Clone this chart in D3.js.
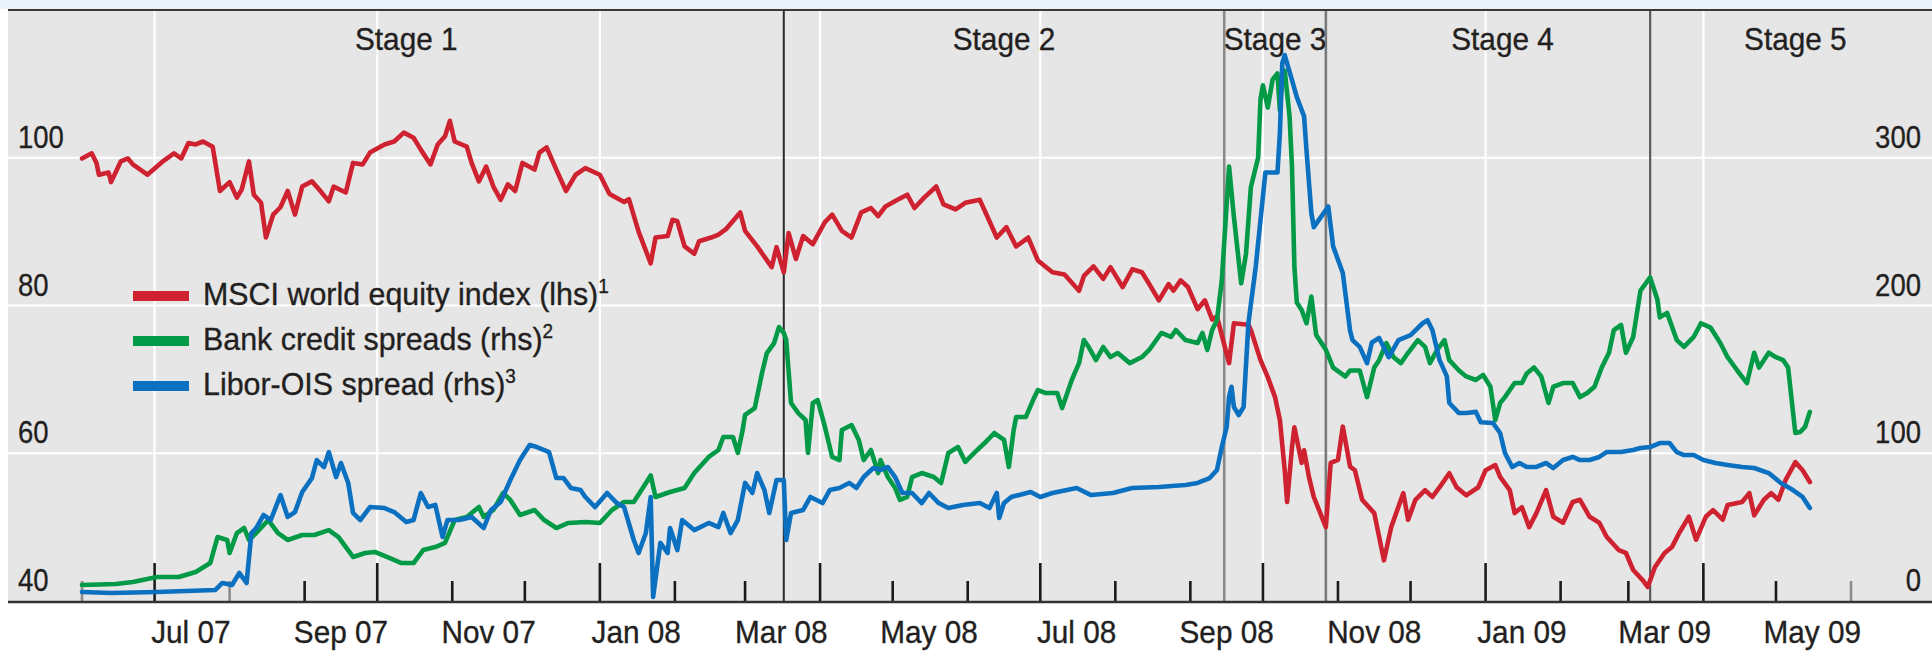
<!DOCTYPE html>
<html><head><meta charset="utf-8">
<script src="https://cdn.jsdelivr.net/npm/d3@7"></script>
<style>
html,body{margin:0;padding:0;background:#fff;}
svg{display:block;}
text{font-family:"Liberation Sans",Arial,Helvetica,sans-serif;fill:#231f20;stroke:#231f20;stroke-width:0.35px;}
</style></head><body>
<svg id="chart" width="1932" height="652"></svg>
<script>
// ---------------- DATA ----------------
const msci = [
["2007-06-01",99.9],["2007-06-05",100.6],["2007-06-07",99.3],["2007-06-08",97.7],["2007-06-12",98.0],["2007-06-13",96.7],
["2007-06-17",99.5],["2007-06-20",99.9],["2007-06-22",99.1],["2007-06-28",97.7],["2007-07-04",99.4],["2007-07-09",100.6],
["2007-07-12",99.9],["2007-07-15",102.0],["2007-07-18",101.8],["2007-07-21",102.2],["2007-07-25",101.5],["2007-07-28",95.5],
["2007-08-01",96.7],["2007-08-04",94.6],["2007-08-06",95.7],["2007-08-09",99.5],["2007-08-11",95.0],["2007-08-14",93.9],
["2007-08-16",89.2],["2007-08-19",92.3],["2007-08-22",93.3],["2007-08-25",95.5],["2007-08-28",92.3],["2007-08-31",96.1],
["2007-09-04",96.8],["2007-09-07",95.7],["2007-09-11",94.1],["2007-09-13",96.1],["2007-09-18",95.3],["2007-09-21",99.3],
["2007-09-25",99.1],["2007-09-28",100.7],["2007-10-04",101.8],["2007-10-08",102.2],["2007-10-12",103.4],["2007-10-16",102.7],
["2007-10-19",101.1],["2007-10-23",99.1],["2007-10-26",101.8],["2007-10-29",102.9],["2007-10-31",105.0],["2007-11-02",102.2],
["2007-11-07",101.5],["2007-11-09",99.3],["2007-11-12",96.8],["2007-11-15",98.8],["2007-11-18",96.1],["2007-11-21",94.3],
["2007-11-24",96.4],["2007-11-27",95.5],["2007-11-30",99.3],["2007-12-05",98.4],["2007-12-07",100.7],["2007-12-10",101.4],
["2007-12-14",98.4],["2007-12-18",95.5],["2007-12-22",97.7],["2007-12-26",98.6],["2008-01-01",97.7],["2008-01-05",95.1],
["2008-01-11",94.0],["2008-01-13",94.4],["2008-01-17",90.0],["2008-01-22",85.7],["2008-01-24",89.2],["2008-01-29",89.4],
["2008-01-31",91.6],["2008-02-02",91.4],["2008-02-05",88.0],["2008-02-09",87.0],["2008-02-11",88.7],["2008-02-16",89.2],
["2008-02-19",89.6],["2008-02-22",90.3],["2008-02-28",92.6],["2008-03-01",90.1],["2008-03-06",88.0],["2008-03-12",85.2],
["2008-03-14",87.9],["2008-03-17",84.5],["2008-03-19",89.8],["2008-03-22",86.3],["2008-03-25",89.4],["2008-03-29",88.3],
["2008-04-03",91.3],["2008-04-06",92.3],["2008-04-10",90.1],["2008-04-14",89.2],["2008-04-18",92.6],["2008-04-22",93.2],
["2008-04-25",92.1],["2008-04-28",93.4],["2008-05-03",94.3],["2008-05-07",95.0],["2008-05-10",93.2],["2008-05-14",94.6],
["2008-05-19",96.1],["2008-05-22",93.7],["2008-05-27",93.0],["2008-05-31",93.9],["2008-06-06",94.3],["2008-06-10",91.4],
["2008-06-13",89.2],["2008-06-17",90.6],["2008-06-21",88.0],["2008-06-26",89.2],["2008-06-30",86.1],["2008-07-06",84.5],
["2008-07-11",84.2],["2008-07-17",82.0],["2008-07-19",84.0],["2008-07-23",85.3],["2008-07-27",83.6],["2008-07-30",85.2],
["2008-08-04",82.5],["2008-08-08",84.9],["2008-08-12",84.5],["2008-08-15",82.9],["2008-08-19",80.7],["2008-08-23",82.9],
["2008-08-25",82.0],["2008-08-28",83.4],["2008-08-31",82.5],["2008-09-04",79.5],["2008-09-07",80.7],["2008-09-10",78.1],
["2008-09-12",78.5],["2008-09-17",72.2],["2008-09-19",77.6],["2008-09-25",77.4],["2008-09-26",76.7],["2008-09-30",72.6],
["2008-10-03",70.3],["2008-10-06",67.6],["2008-10-08",64.5],["2008-10-10",57.7],["2008-10-11",53.4],["2008-10-13",60.8],
["2008-10-14",63.5],["2008-10-17",58.7],["2008-10-18",60.4],["2008-10-20",56.8],["2008-10-22",54.1],["2008-10-27",50.0],
["2008-10-29",58.7],["2008-11-01",59.1],["2008-11-03",63.6],["2008-11-06",58.2],["2008-11-08",57.7],["2008-11-11",53.7],
["2008-11-16",51.9],["2008-11-20",45.5],["2008-11-23",50.0],["2008-11-28",54.6],["2008-11-30",51.0],["2008-12-03",53.7],
["2008-12-07",55.0],["2008-12-10",54.1],["2008-12-13",55.4],["2008-12-17",57.3],["2008-12-20",55.4],["2008-12-24",54.3],
["2008-12-29",55.4],["2009-01-01",57.7],["2009-01-05",58.4],["2009-01-07",56.8],["2009-01-11",55.0],["2009-01-13",51.9],
["2009-01-16",52.7],["2009-01-19",50.0],["2009-01-22",51.9],["2009-01-26",55.0],["2009-01-29",51.4],["2009-02-02",50.6],
["2009-02-06",53.4],["2009-02-09",53.7],["2009-02-13",51.4],["2009-02-17",50.6],["2009-02-20",48.7],["2009-02-25",46.9],
["2009-02-28",46.5],["2009-03-03",44.2],["2009-03-07",42.8],["2009-03-09",41.9],["2009-03-12",44.6],["2009-03-16",46.5],
["2009-03-19",47.3],["2009-03-22",49.2],["2009-03-26",51.4],["2009-03-29",48.3],["2009-04-02",51.4],["2009-04-05",52.3],
["2009-04-09",51.0],["2009-04-11",53.0],["2009-04-17",53.4],["2009-04-20",54.6],["2009-04-22",51.6],["2009-04-26",53.7],
["2009-04-29",54.6],["2009-05-02",53.7],["2009-05-05",56.4],["2009-05-09",58.8],["2009-05-12",57.7],["2009-05-15",56.1]
];

const bankSpreads = [
["2007-06-01",10.8],["2007-06-15",11.5],["2007-06-22",12.9],["2007-07-02",16.2],["2007-07-11",16.2],["2007-07-18",19.6],
["2007-07-24",25.7],["2007-07-27",43.3],["2007-07-31",41.3],["2007-08-01",32.5],["2007-08-04",46],["2007-08-07",49.4],
["2007-08-09",41.3],["2007-08-12",46],["2007-08-17",54.8],["2007-08-21",46],["2007-08-25",41.3],["2007-08-31",44.7],
["2007-09-05",44.7],["2007-09-11",48],["2007-09-15",43.3],["2007-09-21",29.8],["2007-09-26",32.5],["2007-09-30",33.2],
["2007-10-05",29.8],["2007-10-11",25.7],["2007-10-16",25.7],["2007-10-20",34.5],["2007-10-25",36.5],["2007-10-29",39.3],
["2007-11-02",54.8],["2007-11-07",56.9],["2007-11-12",63.6],["2007-11-14",56.9],["2007-11-18",61.6],["2007-11-22",73.1],
["2007-11-25",68.4],["2007-11-29",58.2],["2007-12-05",61.6],["2007-12-09",54.8],["2007-12-14",49.4],["2007-12-19",52.8],
["2007-12-26",53.5],["2008-01-01",52.8],["2008-01-06",61.6],["2008-01-11",67],["2008-01-15",67],["2008-01-19",77.2],
["2008-01-22",85],["2008-01-24",70.4],["2008-01-30",73.8],["2008-02-05",76.5],["2008-02-09",86.6],["2008-02-15",97.5],
["2008-02-19",102.2],["2008-02-21",111],["2008-02-25",111],["2008-02-27",100.2],["2008-02-29",115.7],["2008-03-01",125.9],
["2008-03-05",130.6],["2008-03-08",154.3],["2008-03-10",167.8],["2008-03-13",174.6],["2008-03-15",185.4],["2008-03-17",181.4],
["2008-03-18",176.6],["2008-03-20",134],["2008-03-23",127.2],["2008-03-26",122.5],["2008-03-27",100.2],["2008-03-29",134],
["2008-03-31",136],["2008-04-03",117.8],["2008-04-06",97.5],["2008-04-09",95.4],["2008-04-10",115.7],["2008-04-14",119.1],
["2008-04-17",109],["2008-04-19",95.4],["2008-04-22",102.2],["2008-04-25",86.6],["2008-04-26",95.4],["2008-04-29",83.9],
["2008-05-02",76.5],["2008-05-04",68.4],["2008-05-07",70.4],["2008-05-09",83.9],["2008-05-13",86.6],["2008-05-18",83.9],
["2008-05-21",79.9],["2008-05-24",100.2],["2008-05-28",104.2],["2008-05-31",94.1],["2008-06-04",100.8],["2008-06-08",106.9],
["2008-06-12",113.7],["2008-06-16",109],["2008-06-18",90.7],["2008-06-20",115.7],["2008-06-21",124.5],["2008-06-25",124.5],
["2008-06-28",136],["2008-06-30",142.8],["2008-07-03",140.8],["2008-07-08",140.8],["2008-07-10",130.6],["2008-07-14",149.6],
["2008-07-17",161],["2008-07-19",176.6],["2008-07-21",171.9],["2008-07-24",163.1],["2008-07-27",171.9],["2008-07-30",165.1],
["2008-08-02",167.8],["2008-08-07",161],["2008-08-12",165.1],["2008-08-15",169.9],["2008-08-20",181.4],["2008-08-24",178.7],
["2008-08-26",183.4],["2008-08-30",176.6],["2008-09-04",174.6],["2008-09-06",181.4],["2008-09-08",169.9],["2008-09-10",183.4],
["2008-09-12",190],["2008-09-14",217],["2008-09-17",294],["2008-09-19",260],["2008-09-22",215],["2008-09-24",235],
["2008-09-26",280],["2008-09-29",300],["2008-09-30",340],["2008-10-01",349],["2008-10-03",334],["2008-10-05",353],
["2008-10-07",357],["2008-10-08",332],["2008-10-09",355],["2008-10-10",359],["2008-10-12",328],["2008-10-13",294],
["2008-10-14",226],["2008-10-15",202],["2008-10-17",197],["2008-10-19",188],["2008-10-21",206],["2008-10-23",180],
["2008-10-27",170],["2008-10-30",158],["2008-11-04",152],["2008-11-06",156],["2008-11-10",156],["2008-11-13",138],
["2008-11-16",158],["2008-11-18",163],["2008-11-21",174.6],["2008-11-24",165],["2008-11-27",161],["2008-11-30",168],
["2008-12-04",176.6],["2008-12-07",172],["2008-12-09",161],["2008-12-12",170],["2008-12-15",176.6],["2008-12-17",163],
["2008-12-21",156],["2008-12-24",152],["2008-12-28",149.6],["2008-12-31",153],["2009-01-03",145],["2009-01-05",122.5],
["2009-01-07",134],["2009-01-09",138],["2009-01-13",147.5],["2009-01-16",147.5],["2009-01-18",154],["2009-01-21",158],
["2009-01-24",152],["2009-01-27",134],["2009-01-29",145],["2009-02-02",147.5],["2009-02-06",147.5],["2009-02-09",138],
["2009-02-12",140.8],["2009-02-15",145],["2009-02-18",158],["2009-02-21",168],["2009-02-23",183.4],["2009-02-26",186.8],
["2009-02-28",168],["2009-03-03",178.7],["2009-03-06",210],["2009-03-10",219],["2009-03-13",204],["2009-03-14",192],
["2009-03-17",195],["2009-03-21",176.6],["2009-03-24",172],["2009-03-28",178.7],["2009-03-31",188],["2009-04-04",185],
["2009-04-08",174.6],["2009-04-11",165],["2009-04-15",156],["2009-04-19",147.5],["2009-04-22",168],["2009-04-24",158],
["2009-04-28",168],["2009-05-01",165],["2009-05-04",163],["2009-05-06",158],["2009-05-09",113.7],["2009-05-11",114.4],
["2009-05-13",117.8],["2009-05-15",128]
];

const liborOis = [
["2007-06-01",6.1],["2007-06-13",5.4],["2007-07-02",6.1],["2007-07-26",7.4],["2007-07-29",12.2],["2007-08-02",10.8],
["2007-08-05",19],["2007-08-08",12.2],["2007-08-10",46],["2007-08-12",49.4],["2007-08-15",58.2],["2007-08-18",54.8],
["2007-08-22",71.7],["2007-08-25",56.9],["2007-08-28",60.2],["2007-08-31",73.8],["2007-09-04",83.2],["2007-09-06",95.4],
["2007-09-09",90.7],["2007-09-11",100.8],["2007-09-14",83.9],["2007-09-16",93.4],["2007-09-19",79.9],["2007-09-21",59.6],
["2007-09-24",54.8],["2007-09-28",63.6],["2007-10-04",62.9],["2007-10-08",60.2],["2007-10-13",53.5],["2007-10-16",54.8],
["2007-10-19",73.1],["2007-10-22",63.6],["2007-10-25",65],["2007-10-28",43.3],["2007-10-30",54.8],["2007-11-04",54.8],
["2007-11-09",56.9],["2007-11-14",49.4],["2007-11-17",61.6],["2007-11-21",67],["2007-11-25",81.9],["2007-11-29",95.4],
["2007-12-03",105.6],["2007-12-06",104.2],["2007-12-11",100.8],["2007-12-14",83.2],["2007-12-17",83.2],["2007-12-20",76.5],
["2007-12-24",75.1],["2007-12-26",70.4],["2007-12-30",63.6],["2008-01-04",73.1],["2008-01-08",66.3],["2008-01-11",63.6],
["2008-01-15",41.3],["2008-01-17",32.5],["2008-01-20",46],["2008-01-22",70.4],["2008-01-23",2.7],["2008-01-26",39.3],
["2008-01-29",32.5],["2008-01-30",49.4],["2008-02-02",34.5],["2008-02-04",54.8],["2008-02-09",48],["2008-02-15",52.8],
["2008-02-19",50],["2008-02-21",59.6],["2008-02-24",46],["2008-02-27",54.8],["2008-03-01",79.9],["2008-03-04",73.1],
["2008-03-06",86.6],["2008-03-09",75.1],["2008-03-11",59.6],["2008-03-14",81.9],["2008-03-17",81.9],["2008-03-18",41.3],
["2008-03-20",59.6],["2008-03-25",61.6],["2008-03-28",70.4],["2008-04-02",66.3],["2008-04-05",75.1],["2008-04-09",76.5],
["2008-04-13",79.9],["2008-04-16",76.5],["2008-04-19",83.9],["2008-04-23",90],["2008-04-26",88.7],["2008-04-29",90.7],
["2008-05-02",83.9],["2008-05-05",73.1],["2008-05-09",73.1],["2008-05-13",66.3],["2008-05-16",73.1],["2008-05-20",66.3],
["2008-05-24",62.9],["2008-05-30",65],["2008-06-06",66.3],["2008-06-10",62.9],["2008-06-13",73.1],["2008-06-14",56.2],
["2008-06-16",66.3],["2008-06-19",70.4],["2008-06-27",73.8],["2008-07-01",70.4],["2008-07-06",73.1],["2008-07-16",76.5],
["2008-07-22",71.7],["2008-07-31",73.1],["2008-08-08",76.5],["2008-08-19",77.2],["2008-08-30",78.5],["2008-09-04",79.9],
["2008-09-09",83.2],["2008-09-12",88.7],["2008-09-14",104.2],["2008-09-16",117.8],["2008-09-17",138],["2008-09-18",145],
["2008-09-19",131.3],["2008-09-21",125.9],["2008-09-23",131.3],["2008-09-25",188],["2008-09-28",226],["2008-10-02",290],
["2008-10-07",290],["2008-10-08",316.7],["2008-10-09",364],["2008-10-10",369.5],["2008-10-13",352.6],["2008-10-15",341],
["2008-10-18",328],["2008-10-19",305],["2008-10-21",262.6],["2008-10-22",253],["2008-10-25",260],["2008-10-28",267],
["2008-10-30",240],["2008-11-03",222],["2008-11-06",183],["2008-11-07",176.6],["2008-11-10",172],["2008-11-13",161],
["2008-11-15",175],["2008-11-18",178],["2008-11-22",165],["2008-11-26",176.6],["2008-12-01",180],["2008-12-06",188],
["2008-12-08",190],["2008-12-10",183.4],["2008-12-13",163],["2008-12-16",152],["2008-12-17",134],["2008-12-21",127.2],
["2008-12-24",127.2],["2008-12-28",128],["2008-12-30",121],["2009-01-04",120.5],["2009-01-07",113.7],["2009-01-09",100.2],
["2009-01-12",90.7],["2009-01-15",93.4],["2009-01-18",90.7],["2009-01-22",90.7],["2009-01-26",93.4],["2009-01-29",90],
["2009-02-02",95.4],["2009-02-06",97.5],["2009-02-09",95.4],["2009-02-13",95.4],["2009-02-17",97.5],["2009-02-20",100.8],
["2009-02-26",100.8],["2009-03-03",102.2],["2009-03-06",103.6],["2009-03-10",104.2],["2009-03-14",106.9],["2009-03-18",106.9],
["2009-03-21",100.8],["2009-03-24",98.8],["2009-03-28",98.8],["2009-04-01",95.4],["2009-04-06",93.4],["2009-04-11",92],
["2009-04-17",90.7],["2009-04-22",90],["2009-04-28",86.6],["2009-05-03",79.9],["2009-05-08",75.1],["2009-05-12",70.4],
["2009-05-15",62.9]
];

const seriesLabels = ["MSCI world equity index (lhs)", "Bank credit spreads (rhs)", "Libor-OIS spread (rhs)"];
const seriesNotes = ["1", "2", "3"];
const seriesColors = ["#cf2230", "#029a47", "#0b70c0"];

const stageNames = ["Stage 1", "Stage 2", "Stage 3", "Stage 4", "Stage 5"];
const stageLabelDates = ["2007-10-13", "2008-06-16", "2008-10-06", "2009-01-08", "2009-05-09"];
const stageBreaks = ["2008-03-17", "2008-09-15", "2008-10-27", "2009-03-10"];
const stageBreakColors = ["#2a2a2a", "#8a8a8a", "#7a7a7a", "#5a5a5a"];
const stageBreakWidths = [2, 2.6, 2.6, 2.2];

const leftTicks = [40, 60, 80, 100];
const rightTicks = [0, 100, 200, 300];
const leftDomain = [40, 120];
const rightDomain = [0, 400];
const timeDomain = ["2007-06-01", "2009-06-01"];
const grayTickMonths = ["2007-06-01", "2007-08-01", "2009-06-01"];

// ---------------- CHART ----------------
const parse = d3.timeParse("%Y-%m-%d");
const W = 1932, H = 652;
const plot = {left: 8, right: 1932, top: 10, bottom: 601};
const svg = d3.select("#chart");

const x = d3.scaleTime().domain(timeDomain.map(parse)).range([82, 1851]);
const yL = d3.scaleLinear().domain(leftDomain).range([plot.bottom, plot.top]);
const yR = d3.scaleLinear().domain(rightDomain).range([plot.bottom, plot.top]);

// top strip & frame
svg.append("rect").attr("x", 0).attr("y", 0).attr("width", W).attr("height", 9).attr("fill", "#eaf2fb");
svg.append("rect").attr("x", plot.left).attr("y", plot.top).attr("width", plot.right - plot.left)
   .attr("height", plot.bottom - plot.top).attr("fill", "#e6e6e6");
svg.append("line").attr("x1", plot.left).attr("x2", W).attr("y1", plot.top).attr("y2", plot.top)
   .attr("stroke", "#3a3a3a").attr("stroke-width", 2);

// gridlines
const hGrid = leftTicks.filter(v => v > leftDomain[0]);
svg.append("g").selectAll("line").data(hGrid).join("line")
  .attr("x1", plot.left).attr("x2", plot.right)
  .attr("y1", d => yL(d)).attr("y2", d => yL(d))
  .attr("stroke", "#ffffff").attr("stroke-width", 2.2);

const months = d3.timeMonth.range(parse(timeDomain[0]), d3.timeDay.offset(parse(timeDomain[1]), 1));
const quarters = months.filter(m => m.getMonth() % 3 === 0);
svg.append("g").selectAll("line").data(quarters).join("line")
  .attr("x1", d => x(d)).attr("x2", d => x(d))
  .attr("y1", plot.top + 1).attr("y2", plot.bottom)
  .attr("stroke", "#ffffff").attr("stroke-width", 2.2);

// stage breaks
svg.append("g").selectAll("line").data(stageBreaks).join("line")
  .attr("x1", d => x(parse(d))).attr("x2", d => x(parse(d)))
  .attr("y1", plot.top + 1).attr("y2", plot.bottom)
  .attr("stroke", (d, i) => stageBreakColors[i]).attr("stroke-width", (d, i) => stageBreakWidths[i]);

// month ticks
const grayTicks = new Set(grayTickMonths);
const fmtKey = d3.timeFormat("%Y-%m-%d");
svg.append("g").selectAll("line").data(months).join("line")
  .attr("x1", d => x(d)).attr("x2", d => x(d))
  .attr("y1", plot.bottom).attr("y2", d => plot.bottom - (d.getMonth() % 3 === 0 ? 38 : 20))
  .attr("stroke", d => grayTicks.has(fmtKey(d)) ? "#8c8c8c" : "#1a1a1a")
  .attr("stroke-width", 2.6);

// series lines
const seriesData = [msci, bankSpreads, liborOis].map(s => s.map(([d, v]) => ({date: parse(d), value: v})));
const seriesScales = [yL, yR, yR];
[0, 1, 2].forEach(i => {
  const line = d3.line().x(d => x(d.date)).y(d => seriesScales[i](d.value)).curve(d3.curveLinear);
  svg.append("path").datum(seriesData[i]).attr("d", line)
    .attr("fill", "none").attr("stroke", seriesColors[i]).attr("stroke-width", 4.6)
    .attr("stroke-linejoin", "round").attr("stroke-linecap", "round");
});

// axis line
svg.append("line").attr("x1", plot.left).attr("x2", W).attr("y1", plot.bottom + 1).attr("y2", plot.bottom + 1)
   .attr("stroke", "#333333").attr("stroke-width", 2.6);

// text helper
function label(g, px, py, str, anchor, size, sx) {
  return g.append("text")
    .attr("transform", `translate(${px},${py}) scale(${sx},1)`)
    .attr("text-anchor", anchor).style("font-size", size + "px").text(str);
}

const tg = svg.append("g");
// y labels
leftTicks.forEach(v => label(tg, 18, yL(v) - 10, String(v), "start", 32, 0.86));
rightTicks.forEach(v => label(tg, 1921, yR(v) - 10, String(v), "end", 32, 0.86));

// x labels (odd months, centred mid-month)
const fmtMonth = d3.timeFormat("%b %y");
months.filter(m => m.getMonth() % 2 === 0 && m < parse(timeDomain[1])).forEach(m => {
  label(tg, x(d3.timeDay.offset(m, 15)), 643, fmtMonth(m), "middle", 32, 0.93);
});

// stage labels
stageNames.forEach((s, i) => label(tg, x(parse(stageLabelDates[i])), 50, s, "middle", 32, 0.93));

// legend
const legendX = 133, legendTextX = 203, legendY0 = 305, legendStep = 45;
seriesLabels.forEach((s, i) => {
  const by = legendY0 + i * legendStep;
  svg.append("rect").attr("x", legendX).attr("y", by - 14).attr("width", 56).attr("height", 10)
     .attr("fill", seriesColors[i]);
  const t = label(tg, legendTextX, by, "", "start", 32, 0.95);
  t.append("tspan").text(s);
  t.append("tspan").attr("dy", -12).style("font-size", "20px").text(seriesNotes[i]);
});
</script>
</body></html>
